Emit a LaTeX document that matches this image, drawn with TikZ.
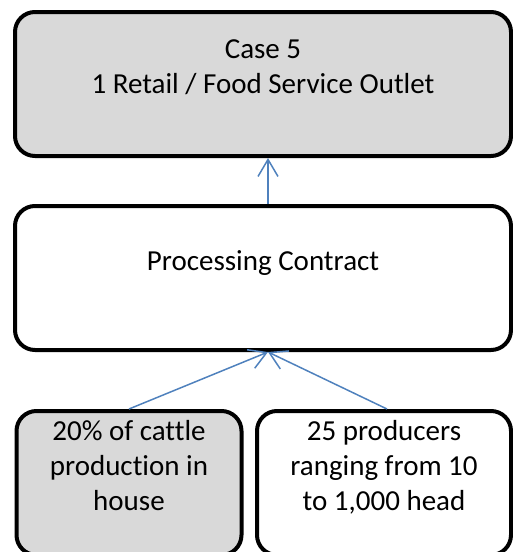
\documentclass[tikz,border=0pt]{standalone}
\usepackage{fontspec}
\setmainfont[Ligatures=NoCommon]{Carlito}
\usepackage{xcolor}
\usetikzlibrary{arrows.meta}

\definecolor{boxgray}{HTML}{D9D9D9}
\definecolor{linkblue}{HTML}{4F81BD}

\begin{document}
\begin{tikzpicture}[x=1pt, y=-1pt,
  stage/.style={draw=black, line width=4pt, rounded corners=20pt, align=center, minimum height=144pt, font=\fontsize{29}{35}\selectfont},
  link/.style={draw=linkblue, line width=1.5pt, -{Straight Barb[length=17pt, width=20pt, line width=1.5pt]}}]
\useasboundingbox (0,0) rectangle (513,552);
\node[stage, fill=boxgray, minimum width=496pt] (outlet) at (263,84) {Case 5\\1 Retail / Food Service Outlet\\ \mbox{}};
\node[stage, fill=white, minimum width=496pt] (contract) at (263,278) {Processing Contract\\ \mbox{}};
\node[stage, fill=boxgray, minimum width=225pt] (inhouse) at (129,483) {20\% of cattle\\production in\\house\\ \mbox{}};
\node[stage, fill=white, minimum width=254pt] (producers) at (384,483) {25 producers\\ranging from 10\\to 1,000 head\\ \mbox{}};
% links up the chain
\draw[link] ([xshift=5pt]contract.north) -- ([xshift=5pt]outlet.south);
\draw[link] (inhouse.north) -- ([xshift=5pt]contract.south);
\draw[link] ([xshift=3pt]producers.north) -- ([xshift=5pt]contract.south);
\end{tikzpicture}
\end{document}
